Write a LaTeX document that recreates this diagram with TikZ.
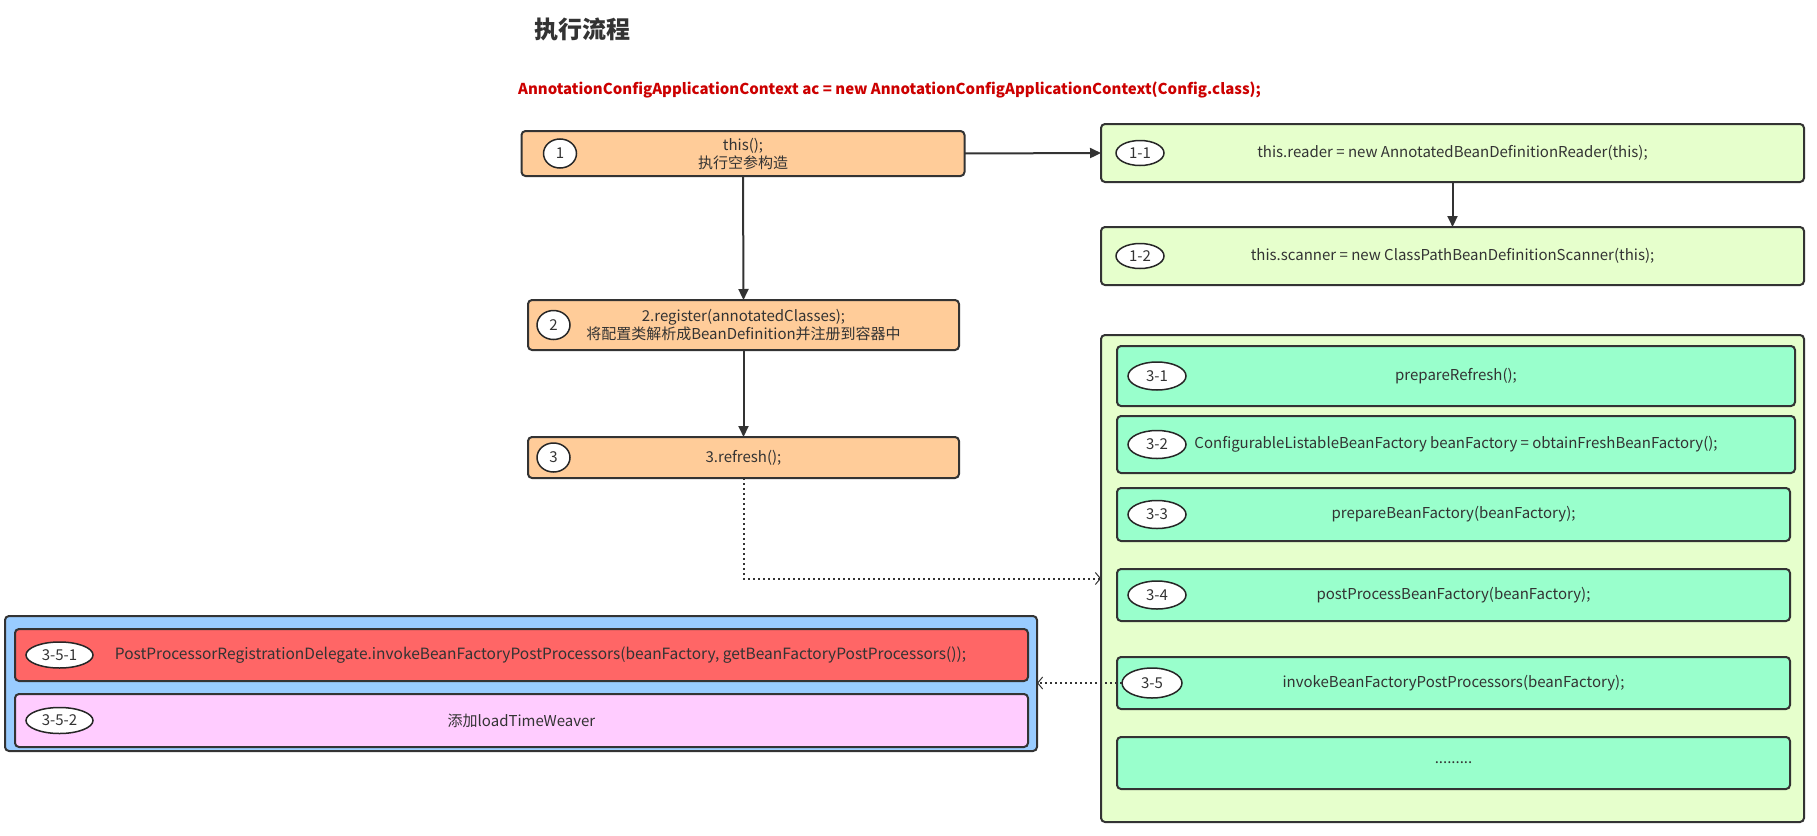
\documentclass[tikz,border=0pt]{standalone}
\usepackage{fontspec}
\setmainfont{Noto Sans CJK SC}
\usepackage{tikz}
\usetikzlibrary{shapes, arrows.meta, positioning}
\definecolor{linec}{HTML}{333333}
\definecolor{codered}{HTML}{CC0000}
\definecolor{orangef}{HTML}{FFCC99}
\definecolor{lgreen}{HTML}{E6FFCC}
\definecolor{mint}{HTML}{99FFCC}
\definecolor{skyf}{HTML}{99CCFF}
\definecolor{redf}{HTML}{FF6666}
\definecolor{pinkf}{HTML}{FFCCFF}
\tikzstyle{stepbox} = [rectangle, draw=linec, line width=2pt, rounded corners=4pt, fill=orangef, inner sep=0pt, outer sep=0pt, text=linec, align=center, font=\fontsize{15}{18}\selectfont]
\tikzstyle{subbox} = [stepbox, fill=lgreen]
\tikzstyle{innerbox} = [stepbox, fill=mint]
\tikzstyle{tag} = [ellipse, draw=black!85, fill=white, line width=1.5pt, inner sep=0pt, outer sep=0pt, text=linec, minimum width=58pt, minimum height=28pt, font=\fontsize{15}{18}\selectfont]
\tikzstyle{flow} = [draw=linec, line width=2pt, -{Triangle[length=11pt,width=10pt]}]
\tikzstyle{dotflow} = [draw=linec, line width=2pt, dash pattern=on 2pt off 3pt, -{Straight Barb[length=5pt,width=12pt,line width=1pt]}]

\begin{document}
\begin{tikzpicture}[x=1pt, y=-1pt, node distance=45pt]
  \useasboundingbox (0,0) rectangle (1817,835);
  \node[text=linec, font=\fontsize{24}{28}\selectfont\bfseries](title) at (582,29){执行流程};
  \node[text=codered, font=\fontsize{15}{18}\selectfont\bfseries](code) at (889.5,90){AnnotationConfigApplicationContext ac = new AnnotationConfigApplicationContext(Config.class);};

  % main steps
  \node[stepbox, minimum width=443pt, minimum height=45pt](step1) at (743,153.5){this();\\执行空参构造};
  \node[stepbox, minimum width=431pt, minimum height=50pt](step2) at (743.5,325){2.register(annotatedClasses);\\将配置类解析成BeanDefinition并注册到容器中};
  \node[stepbox, minimum width=431pt, minimum height=41pt](step3) at (743.5,457.5){3.refresh();};
  \node[tag, minimum width=33pt, minimum height=29pt, right=22pt of step1.west](t1){1};
  \node[tag, minimum width=33pt, minimum height=29pt, right=9pt of step2.west](t2){2};
  \node[tag, minimum width=33pt, minimum height=29pt, right=9pt of step3.west](t3){3};

  % step 1
  \node[subbox, minimum width=703pt, minimum height=58pt](sub11) at (1452.5,153){this.reader = new AnnotatedBeanDefinitionReader(this);};
  \node[subbox, minimum width=703pt, minimum height=58pt, below=of sub11](sub12){this.scanner = new ClassPathBeanDefinitionScanner(this);};
  \node[tag, minimum width=48pt, minimum height=25pt, right=15pt of sub11.west](t11){1-1};
  \node[tag, minimum width=48pt, minimum height=25pt, right=15pt of sub12.west](t12){1-2};

  % step 3
  \node[subbox, minimum width=703pt, minimum height=487pt](grp3) at (1452.5,578.5){};
  \node[innerbox, minimum width=678pt, minimum height=60pt](sub31) at (1456,376){prepareRefresh();};
  \node[innerbox, minimum width=678pt, minimum height=57pt](sub32) at (1456,444.5){ConfigurableListableBeanFactory beanFactory = obtainFreshBeanFactory();};
  \node[innerbox, minimum width=673pt, minimum height=53pt](sub33) at (1453.5,514.5){prepareBeanFactory(beanFactory);};
  \node[innerbox, minimum width=673pt, minimum height=52pt](sub34) at (1453.5,595){postProcessBeanFactory(beanFactory);};
  \node[innerbox, minimum width=673pt, minimum height=52pt](sub35) at (1453.5,683){invokeBeanFactoryPostProcessors(beanFactory);};
  \node[innerbox, minimum width=673pt, minimum height=52pt](sub36) at (1453.5,763){.........};
  \node[tag, right=11pt of sub31.west](t31){3-1};
  \node[tag, right=11pt of sub32.west](t32){3-2};
  \node[tag, right=11pt of sub33.west](t33){3-3};
  \node[tag, right=11pt of sub34.west](t34){3-4};
  \node[tag, minimum width=60pt, minimum height=30pt, right=5pt of sub35.west](t35){3-5};

  % step 3-5
  \node[stepbox, fill=skyf, minimum width=1032pt, minimum height=135pt](grp35) at (521,683.5){};
  \node[stepbox, fill=redf, minimum width=1013pt, minimum height=52pt, font=\fontsize{15.5}{18}\selectfont](sub351) at (521.5,655){\hspace{38pt}PostProcessorRegistrationDelegate.invokeBeanFactoryPostProcessors(beanFactory, getBeanFactoryPostProcessors());};
  \node[stepbox, fill=pinkf, minimum width=1013pt, minimum height=53pt](sub352) at (521.5,720.5){添加loadTimeWeaver};
  \node[tag, minimum width=67pt, minimum height=26pt, right=11pt of sub351.west](t351){3-5-1};
  \node[tag, minimum width=67pt, minimum height=26pt, right=11pt of sub352.west](t352){3-5-2};

  \draw[flow] (step1.south) -- (step2.north);
  \draw[flow] (step2.south) -- (step3.north);
  \draw[flow] (step1.east) -- (sub11.west);
  \draw[flow] (sub11.south) -- (sub12.north);
  \draw[dotflow] (step3.south) |- (grp3.west);
  \draw[dotflow] (t35.west) -- (t35.west -| grp35.east);
\end{tikzpicture}
\end{document}
